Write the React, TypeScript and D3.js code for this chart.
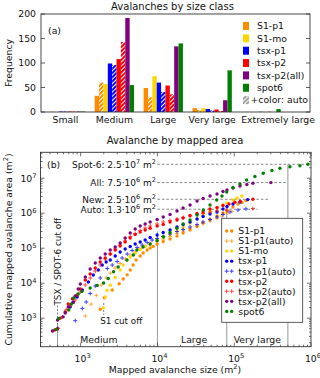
import React from "react";
import * as d3 from "d3";

const FONT = "'DejaVu Sans', sans-serif";
const TXT = "#111";
const SPINE = "#333";

// ---------- Panel (a): avalanches by size class ----------
const sizeClasses = ["Small", "Medium", "Large", "Very large", "Extremely large"];
const freqS1p1 = [0, 33, 49, 8, 0];
const freqS1p1Auto = [0.5, 60, 30, 4, 0.5];
const freqS1mo = [0, 57, 73, 8, 0];
const freqTsxP1 = [1, 99, 60, 6, 0];
const freqTsxP1Auto = [1, 96, 41, 3, 0.5];
const freqTsxP2 = [1, 108, 54, 5, 0];
const freqTsxP2Auto = [1, 143, 36, 2, 0.5];
const freqTsxP2All = [1, 192, 134, 24, 0];
const freqSpot6 = [1, 55, 140, 85, 6];
const freqTicks = [0, 50, 100, 150, 200];

const COL = {
  orange: "#ff8c00",
  gold: "#ffd700",
  blue: "#0000ff",
  red: "#ff0000",
  purple: "#800080",
  green: "#008000",
};

const barSeries = [
  { key: "S1-p1", color: COL.orange, hatch: false, values: freqS1p1 },
  { key: "S1-p1(auto)", color: COL.orange, hatch: true, values: freqS1p1Auto },
  { key: "S1-mo", color: COL.gold, hatch: false, values: freqS1mo },
  { key: "tsx-p1", color: COL.blue, hatch: false, values: freqTsxP1 },
  { key: "tsx-p1(auto)", color: COL.blue, hatch: true, values: freqTsxP1Auto },
  { key: "tsx-p2", color: COL.red, hatch: false, values: freqTsxP2 },
  { key: "tsx-p2(auto)", color: COL.red, hatch: true, values: freqTsxP2Auto },
  { key: "tsx-p2(all)", color: COL.purple, hatch: false, values: freqTsxP2All },
  { key: "spot6", color: COL.green, hatch: false, values: freqSpot6 },
];
const legendA = ["S1-p1", "S1-mo", "tsx-p1", "tsx-p2", "tsx-p2(all)", "spot6"];

// ---------- Panel (b): cumulative area vs avalanche size [size m², cumulative m²] ----------
const curveS1p1: [number, number][] = [
  [1800, 1800], [2030, 3830], [2580, 6410], [3180, 9590], [3580, 13200], [4040, 17300],
  [4420, 23800], [4830, 33100], [5280, 46000], [5960, 60000], [6520, 73000], [7340, 88900],
  [8040, 102000], [8790, 112000], [9910, 132000], [11900, 155000], [14600, 183000],
  [18000, 223000], [21600, 272000], [26600, 331000], [32800, 417000], [39300, 525000],
  [48400, 662000], [59700, 831000], [71400, 1010000], [80500, 1160000], [96400, 1500000],
  [112000, 1830000], [126000, 2020000], [142000, 2300000],
];
const curveS1p1Auto: [number, number][] = [
  [1150, 1150], [1370, 2520], [1600, 4500], [1850, 8900], [2150, 14100], [2430, 19500],
  [2820, 27200], [3270, 36600], [3800, 49100], [4420, 64000], [5130, 77900], [5960, 98000],
  [6920, 116000], [8040, 132000], [9910, 155000], [11900, 183000], [14600, 216000],
  [18000, 263000], [21600, 310000], [26600, 366000], [32800, 431000], [39300, 508000],
  [48400, 598000], [59700, 707000], [69300, 831000], [80500, 1010000], [93500, 1120000],
];
const curveS1mo: [number, number][] = [
  [1970, 1970], [2090, 4060], [2200, 6260], [2430, 8690], [2820, 14500], [3270, 23800],
  [3580, 33100], [4040, 46000], [4420, 56100], [5130, 73000], [5960, 91800], [6920, 112000],
  [8040, 132000], [9910, 166000], [11900, 202000], [14600, 246000], [18000, 310000],
  [21600, 390000], [26600, 525000], [32800, 683000], [39300, 859000], [48400, 1120000],
  [59700, 1410000], [71400, 1710000], [80500, 1960000], [96400, 2380000], [109000, 2720000],
  [126000, 3100000],
];
const curveTsxP1: [number, number][] = [
  [500, 500], [590, 1090], [730, 2090], [800, 2900], [900, 4040], [1050, 6400], [1260, 10800],
  [1460, 17100], [1700, 23800], [1910, 33100], [2150, 40400], [2430, 46000], [2820, 59900],
  [3270, 77900], [3800, 94800], [4420, 112000], [5130, 132000], [5960, 150000], [6920, 171000],
  [8040, 202000], [9910, 238000], [11900, 281000], [14600, 331000], [18000, 403000],
  [21600, 476000], [26600, 561000], [32800, 683000], [39300, 805000], [48400, 949000],
  [59700, 1080000], [71400, 1320000], [80500, 1550000], [96400, 1830000], [119000, 2090000],
  [150000, 2450000],
];
const curveTsxP1Auto: [number, number][] = [
  [850, 850], [1050, 1900], [1180, 2900], [1330, 5080], [1550, 8320], [1800, 14100],
  [2220, 26300], [2580, 33100], [2990, 41700], [3470, 52500], [4040, 68200], [4690, 85900],
  [5440, 105000], [6320, 123000], [7340, 146000], [8530, 171000], [9910, 189000],
  [11900, 216000], [14600, 254000], [18000, 300000], [21600, 342000], [26600, 403000],
  [32800, 476000], [39300, 561000], [48400, 662000], [59700, 779000], [71400, 918000],
  [88100, 1080000], [112000, 1230000], [142000, 1330000],
];
const curveTsxP2: [number, number][] = [
  [460, 460], [540, 1000], [630, 1500], [690, 2550], [780, 3580], [900, 4600], [990, 6830],
  [1150, 12300], [1330, 18300], [1550, 27200], [1800, 40400], [2090, 52500], [2430, 68200],
  [2820, 88900], [3270, 115600], [3800, 150000], [4420, 196000], [5130, 246000],
  [5960, 290000], [6920, 331000], [8040, 370000], [9910, 431000], [11900, 476000],
  [14600, 561000], [18000, 640000], [21600, 729000], [26600, 859000], [32800, 980000],
  [39300, 1080000], [48400, 1320000], [59700, 1450000], [71400, 1660000], [85500, 1830000],
  [102000, 2050000], [120000, 2180000], [175000, 2500000],
];
const curveTsxP2Auto: [number, number][] = [
  [510, 510], [580, 1090], [650, 1740], [733, 2230], [850, 3310], [990, 5600], [1150, 8900],
  [1330, 14100], [1550, 22300], [1800, 33100], [2090, 49100], [2430, 68200], [2820, 94800],
  [3270, 123000], [3800, 161000], [4420, 212000], [5130, 263000], [5960, 321000],
  [6920, 378000], [8040, 431000], [9910, 491000], [11900, 561000], [14600, 619000],
  [18000, 683000], [21600, 754000], [26600, 832000], [32800, 918000], [39300, 980000],
  [48400, 1080000], [59700, 1160000], [80500, 1220000], [175000, 1360000],
];
const curveTsxP2All: [number, number][] = [
  [430, 430], [500, 890], [630, 1410], [690, 2090], [800, 2810], [850, 4300], [930, 6830],
  [990, 9480], [1150, 15000], [1330, 25500], [1550, 37800], [1800, 52500], [2090, 68200],
  [2430, 88900], [2820, 108000], [3270, 141000], [3800, 196000], [4420, 272000],
  [5130, 354000], [5960, 431000], [6920, 491000], [8040, 561000], [9910, 662000],
  [11900, 779000], [14600, 918000], [18000, 1160000], [21600, 1410000], [26600, 1710000],
  [32800, 2230000], [39300, 2630000], [48400, 3100000], [59700, 3540000], [71400, 4170000],
  [80500, 4600000], [96400, 5250000], [119000, 5980000], [146000, 6610000],
  [175000, 7150000], [300000, 7500000],
];
const curveSpot6: [number, number][] = [
  [480, 480], [520, 980], [700, 1710], [755, 2550], [810, 3780], [930, 4900], [1040, 5800],
  [1330, 7300], [1640, 8600], [1990, 10100], [2290, 13600], [2680, 21300], [3080, 29000],
  [4000, 46000], [4860, 64000], [5400, 89000], [6500, 108000], [8040, 132000], [9900, 166000],
  [12000, 213000], [14600, 281000], [17900, 371000], [21600, 490000], [26600, 640000],
  [32800, 889000], [39600, 1230000], [48400, 1710000], [59100, 2380000], [69300, 3100000],
  [79800, 4030000], [96400, 5420000], [119000, 6820000], [145000, 8900000],
  [186000, 11200000], [239000, 13800000], [310000, 16600000], [394000, 19200000],
  [532000, 21300000], [718000, 22800000], [912000, 25000000],
];

const curveSeries = [
  { key: "S1-p1", color: COL.orange, marker: "o", data: curveS1p1 },
  { key: "S1-p1(auto)", color: COL.orange, marker: "+", data: curveS1p1Auto },
  { key: "S1-mo", color: COL.gold, marker: "o", data: curveS1mo },
  { key: "tsx-p1", color: COL.blue, marker: "o", data: curveTsxP1 },
  { key: "tsx-p1(auto)", color: COL.blue, marker: "+", data: curveTsxP1Auto },
  { key: "tsx-p2", color: COL.red, marker: "o", data: curveTsxP2 },
  { key: "tsx-p2(auto)", color: COL.red, marker: "+", data: curveTsxP2Auto },
  { key: "tsx-p2(all)", color: COL.purple, marker: "o", data: curveTsxP2All },
  { key: "spot6", color: COL.green, marker: "o", data: curveSpot6 },
];

// totals annotations
const totalLabels = ["Spot-6", "All", "New", "Auto"];
const totalMantissa = ["2.5", "7.5", "2.5", "1.3"];
const totalExp = [7, 6, 6, 6];
const totalValues = [2.5e7, 7.5e6, 2.5e6, 1.3e6];
const totalLineEnd = [1e6, 5e5, 2.9e5, 2e5];

// size-class boundaries in panel (b): [size, top of line]
const classBounds: [number, number][] = [[1e4, 3e5], [8e4, 1.4e6], [5e5, 2.5e7]];
const classLabels = ["Medium", "Large", "Very large"];
const classLabelPos = [1730, 30000, 2e5];
const xTickExp = [3, 4, 5, 6];
const yTickExp = [3, 4, 5, 6, 7];

function Pow({ x, y, base, exp, anchor = "middle", fs = 9 }: any) {
  return (
    <text x={x} y={y} textAnchor={anchor} fontSize={fs} fill={TXT}>
      {base}
      <tspan dy={-fs * 0.4} fontSize={fs * 0.72}>{exp}</tspan>
    </text>
  );
}

export default function App() {
  // ----- panel a scales -----
  const xA = d3.scaleLinear().domain([-0.5, 5]).range([41, 310]);
  const yA = d3.scaleLinear().domain([0, 200]).range([112, 14]);
  const bw = 0.0893;
  const nB = barSeries.length;

  // ----- panel b scales -----
  const xB = d3.scaleLog().domain([300, 1e6]).range([40.5, 311]);
  const yB = d3.scaleLog().domain([153, 5.5e7]).range([346.7, 152.3]);
  const [bx0, bx1] = xB.range();
  const [by0, by1] = [yB.range()[1], yB.range()[0]];

  const minorX: number[] = [];
  for (let e = 2; e <= 5; e++) for (let m = 1; m <= 9; m++) {
    const v = m * Math.pow(10, e);
    if (v >= 300 && v <= 1e6) minorX.push(v);
  }
  minorX.push(1e6);
  const minorY: number[] = [];
  for (let e = 2; e <= 7; e++) for (let m = 1; m <= 9; m++) {
    const v = m * Math.pow(10, e);
    if (v >= 153 && v <= 5.5e7) minorY.push(v);
  }

  const hatchIds: Record<string, string> = {
    [COL.orange]: "h-or", [COL.blue]: "h-bl", [COL.red]: "h-rd", "#a0a0a0": "h-gy",
  };

  const marker = (m: string, color: string, x: number, y: number, k: string | number) =>
    m === "o" ? (
      <circle key={k} cx={x} cy={y} r={1.7} fill={color} />
    ) : (
      <path key={k} d={`M${x - 2},${y}H${x + 2}M${x},${y - 2}V${y + 2}`}
        stroke={color} strokeWidth={1} opacity={0.75} />
    );

  return (
    <svg width={320} height={378} viewBox="0 0 320 378"
      style={{ position: "absolute", left: 0, top: 0, display: "block", background: "#fff" }}
      fontFamily={FONT}>
      <defs>
        {Object.entries(hatchIds).map(([c, id]) => (
          <pattern key={id} id={id} patternUnits="userSpaceOnUse" width={3} height={3}
            patternTransform="rotate(45)">
            <rect width={3} height={3} fill={c} />
            <line x1={0.5} y1={0} x2={0.5} y2={3} stroke="#fff" strokeWidth={1} />
          </pattern>
        ))}
      </defs>
      <rect width={320} height={378} fill="#fff" />

      {/* ================= Panel (a) ================= */}
      <text x={172.5} y={9.5} textAnchor="middle" fontSize={10} fill={TXT}>Avalanches by size class</text>
      {barSeries.map((s, j) =>
        s.values.map((v, i) => {
          const c = i + (j - (nB - 1) / 2) * bw;
          const x0 = xA(c - bw / 2), x1 = xA(c + bw / 2);
          return (
            <rect key={s.key + i} x={x0} y={yA(v)} width={x1 - x0} height={yA(0) - yA(v)}
              fill={s.hatch ? `url(#${hatchIds[s.color]})` : s.color} />
          );
        })
      )}
      <rect x={xA(-0.5)} y={yA(200)} width={xA(5) - xA(-0.5)} height={yA(0) - yA(200)}
        fill="none" stroke={SPINE} strokeWidth={0.9} />
      {freqTicks.map((t) => (
        <g key={t}>
          <line x1={xA(-0.5)} x2={xA(-0.5) + 4} y1={yA(t)} y2={yA(t)} stroke={SPINE} strokeWidth={0.8} />
          <line x1={xA(5)} x2={xA(5) - 4} y1={yA(t)} y2={yA(t)} stroke={SPINE} strokeWidth={0.8} />
          <text x={xA(-0.5) - 5} y={yA(t) + 3.3} textAnchor="end" fontSize={9.3} fill={TXT}>{t}</text>
        </g>
      ))}
      {sizeClasses.map((c, i) => (
        <text key={c} x={xA(i) + (i === 4 ? 17 : 0)} y={122.7} textAnchor="middle" fontSize={9.3} fill={TXT}>{c}</text>
      ))}
      <text transform={`translate(11.5,${(yA(0) + yA(200)) / 2}) rotate(-90)`} textAnchor="middle"
        fontSize={9.3} fill={TXT}>Frequency</text>
      <text x={48} y={34.3} fontSize={9.3} fill={TXT}>(a)</text>
      {/* legend a */}
      {legendA.map((k, r) => {
        const s = barSeries.find((b) => b.key === k)!;
        const y = 26 + r * 12.35;
        return (
          <g key={k}>
            <rect x={243} y={y - 4} width={6} height={8} fill={s.color} />
            <text x={257} y={y + 3.3} fontSize={9.3} fill={TXT}>{k}</text>
          </g>
        );
      })}
      <rect x={243} y={26 + 6 * 12.35 - 4} width={6} height={8} fill="url(#h-gy)" />
      <text x={250.5} y={26 + 6 * 12.35 + 3.3} fontSize={9.3} fill={TXT}>+color: auto</text>

      {/* ================= Panel (b) ================= */}
      <text x={175} y={143.5} textAnchor="middle" fontSize={10} fill={TXT}>Avalanche by mapped area</text>

      {/* size class boundary lines */}
      {classBounds.map(([v, top]) => (
        <line key={v} x1={xB(v)} x2={xB(v)} y1={by1} y2={yB(top)} stroke="#999" strokeWidth={1} />
      ))}
      {/* TSX / SPOT-6 cut off */}
      <line x1={xB(500)} x2={xB(500)} y1={by1} y2={yB(640)} stroke="#999" strokeWidth={1} />
      <line x1={xB(500)} x2={xB(500)} y1={yB(640)} y2={yB(2300)} stroke="#555" strokeWidth={0.8} strokeDasharray="2,1.5" />
      <text transform={`translate(${xB(500) + 3.2},${yB(2300)}) rotate(-90)`} fontSize={8.8} fill={TXT}>TSX / SPOT-6 cut off</text>
      {/* S1 cut off */}
      <line x1={xB(2000)} x2={xB(2000)} y1={yB(2700)} y2={yB(1220)} stroke="#555" strokeWidth={0.8} strokeDasharray="2,1.5" />
      <text x={xB(1800)} y={yB(700)} fontSize={8.8} fill={TXT}>S1 cut off</text>

      {/* total annotations */}
      {totalValues.map((v, i) => (
        <g key={i}>
          <line x1={xB(1e4)} x2={xB(totalLineEnd[i])} y1={yB(v)} y2={yB(v)} stroke="#666"
            strokeWidth={0.8} strokeDasharray="2.5,2" />
          <text x={xB(1e4) - 1.5} y={yB(v) + 3.4} textAnchor="end" fontSize={9} fill={TXT}>
            {`${totalLabels[i]}: ${totalMantissa[i]}·10`}
            <tspan dy={-3.6} fontSize={6.5}>{totalExp[i]}</tspan>
            <tspan dy={3.6}> m</tspan>
            <tspan dy={-3.6} fontSize={6.5}>2</tspan>
          </text>
        </g>
      ))}

      {/* data */}
      {curveSeries.map((s) => (
        <g key={s.key}>
          {s.data.map(([v, c], i) => marker(s.marker, s.color, xB(v), yB(c), i))}
        </g>
      ))}

      {/* class labels */}
      {classLabels.map((l, i) => (
        <text key={l} x={xB(classLabelPos[i])} y={yB(250) + 3.3} textAnchor="middle" fontSize={9.3} fill={TXT}>{l}</text>
      ))}

      {/* frame + ticks */}
      <rect x={bx0} y={by0} width={bx1 - bx0} height={by1 - by0} fill="none" stroke={SPINE} strokeWidth={0.9} />
      {minorX.map((v) => {
        const major = xTickExp.some((e) => Math.abs(v - Math.pow(10, e)) < 1e-6);
        const L = major ? 4 : 2;
        return (
          <g key={"x" + v}>
            <line x1={xB(v)} x2={xB(v)} y1={by1} y2={by1 - L} stroke={SPINE} strokeWidth={0.7} />
            <line x1={xB(v)} x2={xB(v)} y1={by0} y2={by0 + L} stroke={SPINE} strokeWidth={0.7} />
          </g>
        );
      })}
      {minorY.map((v) => {
        const major = yTickExp.some((e) => Math.abs(v - Math.pow(10, e)) < 1e-6);
        const L = major ? 4 : 2;
        return (
          <g key={"y" + v}>
            <line x1={bx0} x2={bx0 + L} y1={yB(v)} y2={yB(v)} stroke={SPINE} strokeWidth={0.7} />
            <line x1={bx1} x2={bx1 - L} y1={yB(v)} y2={yB(v)} stroke={SPINE} strokeWidth={0.7} />
          </g>
        );
      })}
      {xTickExp.map((e) => (
        <Pow key={e} x={xB(Math.pow(10, e)) + 2} y={361.5} base="10" exp={e} fs={9.3} />
      ))}
      {yTickExp.map((e) => (
        <Pow key={e} x={36.5} y={yB(Math.pow(10, e)) + 3.3} base="10" exp={e} anchor="end" fs={9.3} />
      ))}
      <text x={175} y={372.5} textAnchor="middle" fontSize={9.3} fill={TXT}>
        Mapped avalanche size (m<tspan dy={-3.6} fontSize={6.7}>2</tspan><tspan dy={3.6}>)</tspan>
      </text>
      <text transform={`translate(11.5,249.5) rotate(-90)`} textAnchor="middle" fontSize={9.3} fill={TXT}>
        Cumulative mapped avalanche area (m<tspan dy={-3.6} fontSize={6.7}>2</tspan><tspan dy={3.6}>)</tspan>
      </text>
      <text x={47} y={167.5} fontSize={9.3} fill={TXT}>(b)</text>

      {/* legend b */}
      <rect x={221.7} y={218.3} width={81} height={104} fill="#fff" stroke={SPINE} strokeWidth={0.8} />
      {curveSeries.map((s, r) => {
        const y = 231 + r * 10.05;
        return (
          <g key={s.key}>
            {marker(s.marker, s.color, 226.7, y, "a")}
            {marker(s.marker, s.color, 231.7, y, "b")}
            <text x={238.3} y={y + 3.3} fontSize={9.3} fill={TXT}>{s.key}</text>
          </g>
        );
      })}
    </svg>
  );
}
